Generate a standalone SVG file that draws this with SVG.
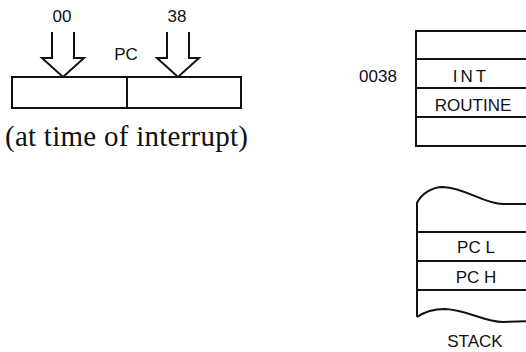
<svg xmlns="http://www.w3.org/2000/svg" width="526" height="352" viewBox="0 0 526 352">
<style>
.ln{fill:none;stroke:#111;stroke-width:2;stroke-linejoin:miter}
.box{fill:#fff;stroke:#111;stroke-width:2}
.t{font-family:"Liberation Sans",Arial,sans-serif;font-size:17px;fill:#111;text-anchor:middle}
.s{font-family:"Liberation Serif","Times New Roman",serif;font-size:29px;fill:#111}
</style>
<rect width="526" height="352" fill="#fff"/>
<g id="pc-register">
<rect class="box" x="12" y="77" width="229" height="31"/>
<line class="ln" x1="127" y1="77" x2="127" y2="108"/>
<text class="t" x="126" y="60">PC</text>
</g>
<g id="connectors">
<path class="ln" d="M52,32 V58 H42 L63,77 L84,58 H74 V32"/>
<path class="ln" d="M167,32 V58 H157 L178,77 L199,58 H189 V32"/>
</g>
<g id="label-00"><text class="t" x="62" y="22">00</text></g>
<g id="label-38"><text class="t" x="177" y="22">38</text></g>
<g id="caption"><text class="s" x="5" y="146" textLength="243">(at time of interrupt)</text></g>
<g id="memory">
<path class="ln" d="M530,31 H416 V146 H530"/>
<line class="ln" x1="416" y1="59" x2="530" y2="59"/>
<line class="ln" x1="416" y1="88" x2="530" y2="88"/>
<line class="ln" x1="416" y1="117" x2="530" y2="117"/>
<text class="t" x="378" y="82">0038</text>
<text class="t" x="471" y="82" letter-spacing="3">INT</text>
<text class="t" x="473" y="111">ROUTINE</text>
</g>
<g id="stack">
<path class="ln" d="M417,317 V203 C421,194 432,187 443,187 C466,188 484,204 503,204 H530"/>
<path class="ln" d="M417,317 C424,312 434,309 445,309 C468,310 484,322 503,322 L530,321"/>
<line class="ln" x1="417" y1="232" x2="530" y2="232"/>
<line class="ln" x1="417" y1="261" x2="530" y2="261"/>
<line class="ln" x1="417" y1="290" x2="530" y2="290"/>
<text class="t" x="476" y="253">PC L</text>
<text class="t" x="476" y="283">PC H</text>
<text class="t" x="475" y="347">STACK</text>
</g>
</svg>
